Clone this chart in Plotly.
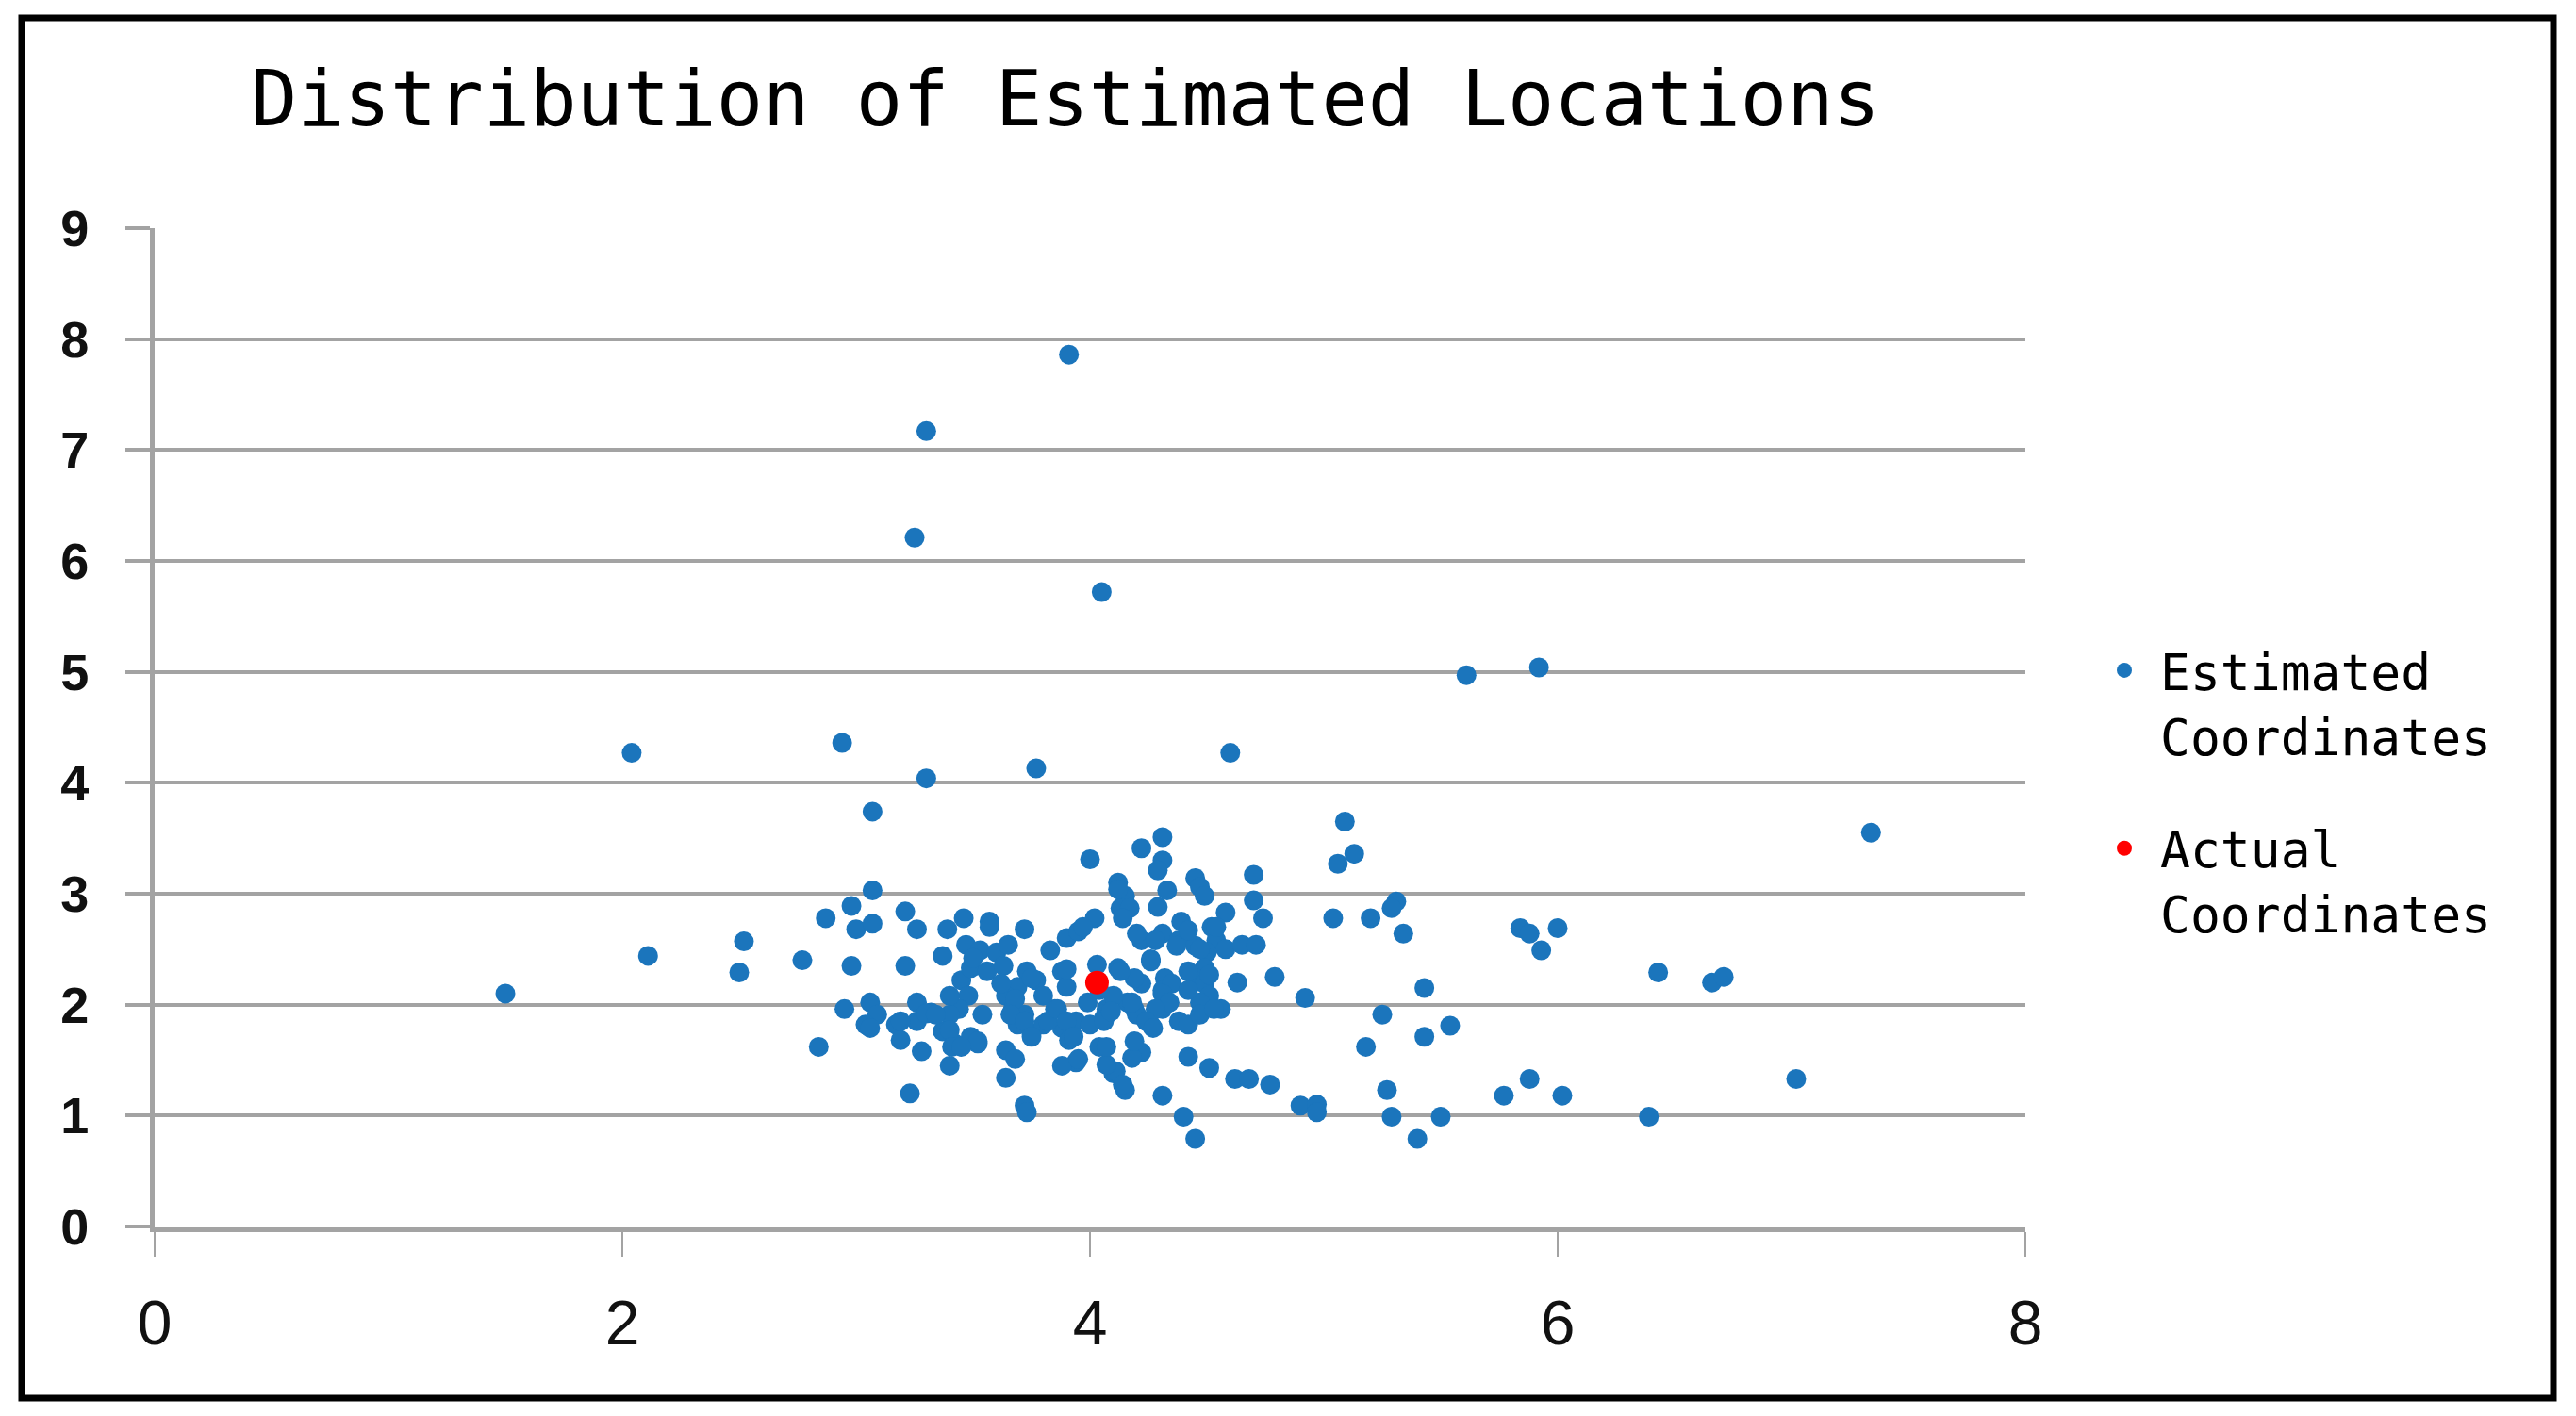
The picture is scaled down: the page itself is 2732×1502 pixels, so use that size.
import plotly.graph_objects as go

# ---------------- data ----------------
est_x = [
    1.50, 2.04, 2.11, 2.52, 2.50, 2.77, 2.94, 3.07, 3.30, 3.77,
    4.60, 3.25, 3.30, 3.91, 4.05, 5.61, 5.92, 7.34, 6.43, 6.66,
    6.71, 7.02, 6.39,
    5.09, 5.13, 5.06, 5.04, 5.20, 5.31, 5.29, 5.34, 5.84, 5.88,
    5.93, 6.00, 5.43, 5.25, 5.54, 5.43, 5.18, 4.92, 4.79, 4.63,
    5.88, 5.77, 6.02, 5.27, 5.29, 5.50, 5.40, 4.90, 4.97, 4.97,
    4.62, 4.68, 4.77, 4.51, 4.42, 4.31, 4.40, 4.45, 4.22, 4.18,
    4.15, 4.10, 4.70, 4.70, 4.74, 4.58, 4.45, 4.47, 4.49, 4.31,
    4.22, 4.31, 4.29, 4.33, 4.29, 4.12, 4.15, 4.13, 4.17, 4.00,
    4.22, 4.31, 4.38, 4.39, 4.45, 4.52, 4.54, 4.58, 4.65, 4.71,
    4.26, 4.50, 4.49, 4.45, 4.49, 4.51, 4.32, 4.31, 4.35, 4.22,
    4.26, 4.31, 4.38, 4.42, 4.47, 4.56, 4.19, 4.20, 4.28, 4.37,
    4.42, 4.47, 4.54, 4.26, 4.42, 4.51, 4.12, 4.19, 4.31, 4.34,
    4.28, 4.16, 4.20, 4.24, 4.27, 4.47, 4.53, 4.42, 4.11, 4.19,
    4.14, 4.07, 4.04, 4.07, 4.03, 4.12, 4.14,
    3.83, 3.90, 3.95, 4.02, 3.97, 3.88, 3.90, 3.73, 3.77, 3.80,
    3.69, 3.64, 3.67, 3.72, 3.45, 3.48, 3.44, 3.40, 3.37, 3.42,
    3.26, 3.32, 3.26, 3.28, 3.40, 3.49, 3.52, 3.64, 3.68, 3.64,
    3.69, 3.75, 3.80, 3.85, 3.88, 3.91, 3.94, 3.99, 4.07, 4.10,
    4.06, 4.00, 3.94, 3.88, 3.95, 3.72, 3.73, 3.23, 2.84,
    3.07, 2.98, 2.87, 3.00, 3.07, 3.21, 3.26, 3.39, 3.46, 3.57,
    3.72, 2.98, 3.21, 3.37, 2.95, 3.06, 3.09, 3.04, 3.06, 3.17,
    3.19, 3.19, 3.40, 3.40, 3.41,
    3.47, 3.53, 3.60, 3.65, 3.49, 3.56, 3.63, 3.50, 3.57, 3.62,
    3.68, 3.66, 3.72, 3.75, 3.82, 3.86, 3.90, 3.93, 4.06, 4.09,
    4.04, 4.13, 4.18, 3.90, 3.75, 3.54, 3.52, 3.45, 3.30, 3.34,
]
est_y = [
    2.10, 4.27, 2.44, 2.57, 2.29, 2.40, 4.36, 3.74, 4.04, 4.13,
    4.27, 6.21, 7.17, 7.86, 5.72, 4.97, 5.04, 3.55, 2.29, 2.20,
    2.25, 1.33, 0.99,
    3.65, 3.36, 3.27, 2.78, 2.78, 2.93, 2.87, 2.64, 2.69, 2.64,
    2.49, 2.69, 2.15, 1.91, 1.81, 1.71, 1.62, 2.06, 2.25, 2.20,
    1.33, 1.18, 1.18, 1.23, 0.99, 0.99, 0.79, 1.09, 1.10, 1.03,
    1.33, 1.33, 1.28, 1.43, 1.53, 1.18, 0.99, 0.79, 1.57, 1.52,
    1.23, 1.38, 3.17, 2.94, 2.78, 2.83, 3.14, 3.06, 2.98, 3.51,
    3.41, 3.30, 3.21, 3.03, 2.88, 3.10, 2.98, 2.87, 2.87, 3.31,
    2.58, 2.64, 2.58, 2.75, 2.53, 2.70, 2.58, 2.50, 2.54, 2.54,
    2.41, 2.47, 2.33, 2.24, 2.19, 2.08, 2.24, 2.13, 2.19, 2.19,
    1.82, 1.96, 1.85, 1.82, 2.02, 1.96, 1.96, 2.64, 2.58, 2.53,
    2.67, 2.50, 2.70, 2.39, 2.30, 2.27, 2.33, 2.24, 2.10, 2.02,
    1.96, 2.02, 1.91, 1.85, 1.79, 1.91, 1.96, 2.13, 1.40, 1.67,
    1.28, 1.46, 1.62, 1.62, 2.36, 3.04, 2.78,
    2.49, 2.60, 2.66, 2.78, 2.70, 2.30, 2.16, 2.30, 2.22, 2.08,
    2.16, 2.08, 1.96, 1.91, 2.22, 2.08, 1.96, 1.91, 1.76, 1.65,
    2.02, 1.93, 1.85, 1.58, 1.45, 1.71, 1.65, 1.59, 1.51, 1.34,
    1.82, 1.74, 1.82, 1.96, 1.79, 1.68, 1.85, 2.02, 1.96, 2.08,
    1.88, 1.82, 1.48, 1.45, 1.51, 1.09, 1.03, 1.20, 1.62,
    3.03, 2.89, 2.78, 2.68, 2.73, 2.84, 2.68, 2.68, 2.78, 2.75,
    2.68, 2.35, 2.35, 2.44, 1.96, 2.02, 1.91, 1.82, 1.79, 1.82,
    1.68, 1.85, 2.08, 1.77, 1.62,
    2.54, 2.49, 2.47, 2.54, 2.33, 2.30, 2.35, 2.42, 2.70, 2.19,
    2.05, 1.91, 1.85, 1.71, 1.85, 1.96, 1.85, 1.71, 1.85, 1.94,
    2.13, 2.30, 2.02, 2.32, 2.24, 1.91, 1.67, 1.62, 1.92, 1.91,
]
actual_x = [4.03]
actual_y = [2.20]

x_ticks = [0, 2, 4, 6, 8]
y_ticks = [0, 1, 2, 3, 4, 5, 6, 7, 8, 9]

title_text = "Distribution of Estimated Locations"
series_names = ["Estimated<br>Coordinates", "Actual<br>Coordinates"]

# ---------------- styling ----------------
W, H = 2732, 1502
L, R, T, B = 164, 2732 - 2148, 242, 1502 - 1301
grid_col = "#a3a3a3"
mono = "DejaVu Sans Mono"

fig = go.Figure()
fig.add_trace(go.Scatter(
    x=est_x, y=est_y, mode="markers", name=series_names[0],
    legendgroup="est",
    marker=dict(color="#1b75bc", size=21, line=dict(width=0)),
))
fig.add_trace(go.Scatter(
    x=actual_x, y=actual_y, mode="markers", name=series_names[1],
    legendgroup="act",
    marker=dict(color="#ff0000", size=25, line=dict(width=0)),
))

pw = W - L - R
ph = H - T - B


def px_to_paper_x(px):
    return (px - L) / pw


def px_to_paper_y(py):
    return (H - B - py) / ph


fig.update_layout(
    width=W, height=H,
    margin=dict(l=L, r=R, t=T, b=B, autoexpand=False),
    paper_bgcolor="white", plot_bgcolor="white",
    title=dict(
        text=title_text, xref="container", yref="container",
        x=266 / W, xanchor="left",
        y=1 - 104 / H, yanchor="middle",
        font=dict(family=mono, size=82, color="black"),
    ),
    showlegend=True,
    legend=dict(
        x=px_to_paper_x(2215), xanchor="left",
        y=px_to_paper_y(670), yanchor="top",
        font=dict(family=mono, size=53, color="black"),
        bgcolor="rgba(0,0,0,0)", borderwidth=0,
        tracegroupgap=48, itemsizing="trace", valign="top",
        itemwidth=66,
    ),
    xaxis=dict(
        range=[0, 8], tickvals=x_ticks, ticktext=[str(v) for v in x_ticks],
        showgrid=False, zeroline=False,
        showline=True, linecolor=grid_col, linewidth=6,
        ticks="outside", ticklen=26, tickwidth=2, tickcolor=grid_col,
        ticklabelstandoff=14,
        tickfont=dict(family="Liberation Sans", size=66, color="#111111"),
    ),
    yaxis=dict(
        range=[0, 9], tickvals=y_ticks, ticktext=[str(v) for v in y_ticks],
        showgrid=True, gridcolor=grid_col, gridwidth=4,
        zeroline=False,
        showline=True, linecolor=grid_col, linewidth=5,
        ticks="outside", ticklen=26, tickwidth=4, tickcolor=grid_col,
        ticklabelstandoff=28,
        tickfont=dict(family="Liberation Sans", size=54, color="#111111",
                      weight="bold"),
    ),
    shapes=[dict(
        type="rect", xref="paper", yref="paper",
        x0=px_to_paper_x(23), x1=px_to_paper_x(2708),
        y0=px_to_paper_y(1483), y1=px_to_paper_y(19),
        line=dict(color="black", width=7), fillcolor="rgba(0,0,0,0)",
        layer="above",
    )],
)

fig.write_html(
    "out.html",
    config={"displayModeBar": False},
    post_script="document.body.style.margin='0';",
)
